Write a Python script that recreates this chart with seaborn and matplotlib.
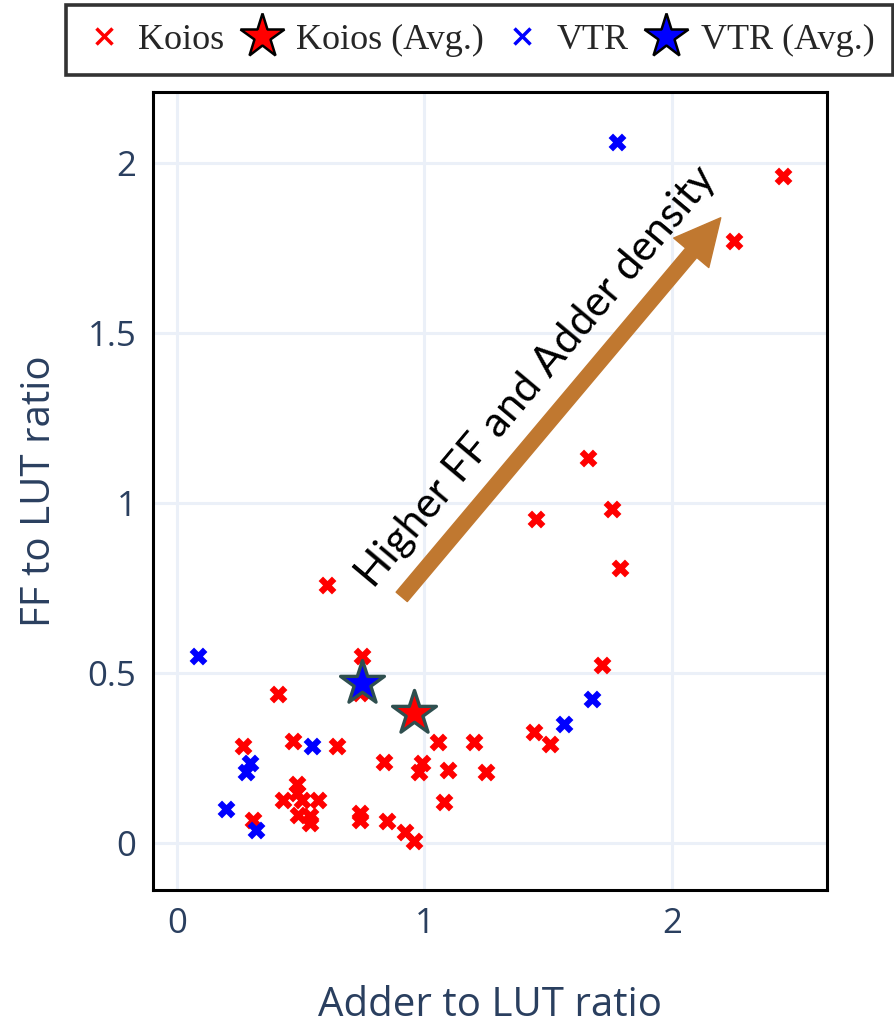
import numpy as np
import pandas as pd
import matplotlib
matplotlib.use("Agg")
import matplotlib.pyplot as plt
from matplotlib.lines import Line2D
from matplotlib.patches import FancyArrowPatch
import seaborn as sns

# Koios benchmarks (adder/LUT, FF/LUT)
koios_adder = [0.747, 0.739, 0.409, 0.606, 0.267, 0.470, 0.648, 0.838, 1.056, 1.200,
               0.989, 0.979, 1.096, 1.248, 1.080, 0.483, 0.483, 0.430, 0.504, 0.571,
               0.490, 0.537, 0.537, 0.306, 0.739, 0.739, 0.847, 0.921, 0.959, 1.716,
               1.444, 1.507, 2.450, 2.252, 1.662, 1.756, 1.451, 1.790]
koios_ff = [0.550, 0.440, 0.438, 0.759, 0.285, 0.300, 0.285, 0.237, 0.298, 0.298,
            0.234, 0.210, 0.215, 0.208, 0.121, 0.175, 0.148, 0.126, 0.126, 0.126,
            0.082, 0.080, 0.058, 0.068, 0.087, 0.068, 0.065, 0.031, 0.006, 0.525,
            0.327, 0.291, 1.963, 1.771, 1.133, 0.981, 0.952, 0.810]

# VTR benchmarks
vtr_adder = [0.084, 0.544, 0.295, 0.277, 0.198, 0.319, 1.678, 1.565, 1.777]
vtr_ff = [0.551, 0.286, 0.236, 0.210, 0.100, 0.038, 0.425, 0.349, 2.061]

# averages
koios_avg = (0.958, 0.381)
vtr_avg = (0.746, 0.471)

# annotation arrow (tail, head) in data units
arrow_tail = (0.908, 0.724)
arrow_head = (2.197, 1.839)
arrow_label = "Higher FF and Adder density"

koios = pd.DataFrame({"adder": koios_adder, "ff": koios_ff})
vtr = pd.DataFrame({"adder": vtr_adder, "ff": vtr_ff})

sns.set_theme(style="white")
plt.rcParams["font.family"] = ["Open Sans", "DejaVu Sans"]

TXT = "#2a3f5f"
GRID = "#EBF0F8"

fig = plt.figure(figsize=(8.94, 10.26), dpi=100)
ax = fig.add_axes([0.1711, 0.1326, 0.7539, 0.7778])

sns.scatterplot(data=koios, x="adder", y="ff", ax=ax, marker="X", s=165,
                color="#FF0000", linewidth=0, zorder=3)
ax.scatter([koios_avg[0]], [koios_avg[1]], marker="*", s=1100, color="#FF0000",
           edgecolor="#2F4F4F", linewidth=2.4, zorder=4)
sns.scatterplot(data=vtr, x="adder", y="ff", ax=ax, marker="X", s=165,
                color="#0000FF", linewidth=0, zorder=5)
ax.scatter([vtr_avg[0]], [vtr_avg[1]], marker="*", s=1100, color="#0000FF",
           edgecolor="#2F4F4F", linewidth=2.4, zorder=6)

ax.set_xlim(-0.097, 2.626)
ax.set_ylim(-0.138, 2.209)
ax.set_xticks([0, 1, 2])
ax.set_yticks([0, 0.5, 1, 1.5, 2])
ax.set_yticklabels(["0", "0.5", "1", "1.5", "2"])
ax.grid(True, color=GRID, linewidth=2.2)
ax.set_axisbelow(True)
for sp in ax.spines.values():
    sp.set_color("black")
    sp.set_linewidth(2.2)
ax.tick_params(axis="both", length=0, labelsize=25, labelcolor=TXT, pad=12)

ax.set_xlabel("Adder to LUT ratio", fontsize=29, color=TXT, labelpad=32)
ax.set_ylabel("FF to LUT ratio", fontsize=29, color=TXT, labelpad=20)

arrow = FancyArrowPatch(arrow_tail, arrow_head,
                        arrowstyle="simple,head_length=3.3,head_width=3.3,tail_width=1.05",
                        mutation_scale=10, color="#C07830", shrinkA=0, shrinkB=0,
                        zorder=7)
ax.add_patch(arrow)
ax.text(1.452, 1.372, arrow_label, rotation=50, rotation_mode="anchor",
        ha="center", va="center", fontsize=30.5, color="black",
        family=["Lato", "DejaVu Sans"], zorder=8)

handles = [
    Line2D([], [], linestyle="none", marker="x", color="#FF0000", markersize=12, mew=2.5),
    Line2D([], [], linestyle="none", marker="*", markerfacecolor="#FF0000",
           markeredgecolor="black", markersize=33, mew=1.8),
    Line2D([], [], linestyle="none", marker="x", color="#0000FF", markersize=12, mew=2.5),
    Line2D([], [], linestyle="none", marker="*", markerfacecolor="#0000FF",
           markeredgecolor="black", markersize=33, mew=1.8),
]
labels = ["Koios", "Koios (Avg.)", "VTR", "VTR (Avg.)"]
leg = fig.legend(handles, labels, loc="center", bbox_to_anchor=(0.536, 0.961),
                 ncol=4, frameon=True, fancybox=False, handlelength=1.1,
                 handletextpad=0.4, columnspacing=0.5, borderpad=0.5,
                 borderaxespad=0.3,
                 prop={"family": ["Liberation Serif", "DejaVu Serif"], "size": 26})
leg.get_frame().set_edgecolor("black")
leg.get_frame().set_linewidth(2.6)

fig.savefig("out.png", dpi=100)
